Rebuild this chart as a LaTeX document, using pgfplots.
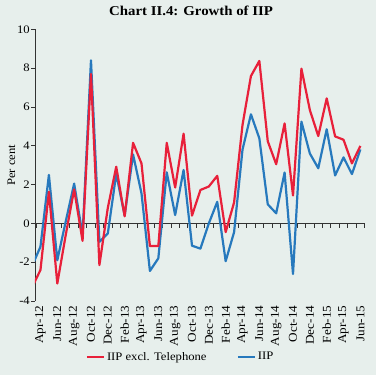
\documentclass[border=0pt]{standalone}
\usepackage{fontspec}
\setmainfont{Liberation Serif}[FakeStretch=1.1]
\usepackage{pgfplots}
\pgfplotsset{compat=1.18}
\usepackage{pgfplotstable}
\definecolor{bg}{HTML}{E7EFEC}
\definecolor{iipred}{HTML}{E8203A}
\definecolor{iipblue}{HTML}{2779BD}
\definecolor{axcol}{HTML}{333333}

\pgfplotstableread{
idx red blue
-1 -3.3 -2.2
0 -2.4 -1.2
1 1.63 2.5
2 -3.1 -1.9
3 -0.6 0.1
4 1.75 2.05
5 -0.9 -0.6
6 7.7 8.4
7 -2.15 -0.95
8 0.8 -0.52
9 2.92 2.55
10 0.36 0.4
11 4.15 3.55
12 3.09 1.55
13 -1.17 -2.45
14 -1.17 -1.8
15 4.15 2.63
16 1.85 0.43
17 4.62 2.75
18 0.4 -1.15
19 1.72 -1.3
20 1.9 0.0
21 2.45 1.11
22 -0.45 -1.95
23 1.08 -0.45
24 5.07 3.8
25 7.59 5.62
26 8.37 4.38
27 4.23 0.98
28 3.05 0.52
29 5.15 2.62
30 1.44 -2.61
31 7.97 5.24
32 5.84 3.6
33 4.5 2.84
34 6.44 4.85
35 4.48 2.47
36 4.31 3.4
37 3.09 2.54
38 3.99 3.81
}\datatab

\begin{document}
\fontsize{11.5pt}{13pt}\selectfont
\begin{tikzpicture}
\fill[bg] (-35pt,-74pt) rectangle (341pt,301pt);
\begin{axis}[
  scale only axis, width=330pt, height=271.7pt,
  xmin=-0.65, xmax=38.55, ymin=-4, ymax=10,
  axis x line*=bottom, axis y line*=left,
  x axis line style={draw=none},
  y axis line style={draw=axcol, line width=0.8pt},
  xtick={0,2,...,38},
  xticklabels={Apr-12,Jun-12,Aug-12,Oct-12,Dec-12,Feb-13,Apr-13,Jun-13,Aug-13,Oct-13,Dec-13,Feb-14,Apr-14,Jun-14,Aug-14,Oct-14,Dec-14,Feb-15,Apr-15,Jun-15},
  xtick style={draw=none},
  xticklabel style={rotate=90, anchor=east, inner sep=1pt, font=\fontsize{12pt}{14pt}\selectfont},
  ytick={-4,-2,...,10},
  ytick style={draw=axcol, line width=0.8pt},
  tick align=outside, major tick length=3.5pt,
  /pgf/number format/assume math mode=true,
  yticklabel style={inner sep=1.5pt},
  ylabel={Per cent},
  every axis y label/.style={at={(axis description cs:0,0.5)}, xshift=-23.5pt, rotate=90, anchor=center},
  title={Chart II.4: Growth of IIP},
  title style={font=\bfseries\fontsize{13.5pt}{15pt}\selectfont, at={(axis description cs:0.473,1)}, anchor=base, yshift=8pt},
  legend columns=2,
  legend style={draw=none, fill=none, at={(axis description cs:0.441,-0.206)}, anchor=center,
    /tikz/every even column/.append style={column sep=28pt}},
  legend image code/.code={\draw[#1] (0pt,0pt) -- (17pt,0pt);},
]
\draw[black!80, line width=0.9pt] (axis cs:-0.65,0) -- (axis cs:38.55,0);
\foreach \k in {0,...,39} {
  \edef\temp{\noexpand\draw[black!80, line width=0.9pt] (axis cs:\k-0.5,0) -- ++(0pt,-4.5pt);}
  \temp
}
\addlegendimage{iipred, line width=2.4pt}
\addlegendentry{IIP excl. Telephone}
\addlegendimage{iipblue, line width=2.4pt}
\addlegendentry{IIP}
\addplot[iipblue, line width=2.2pt, line join=round, forget plot] table[x=idx, y=blue] {\datatab};
\addplot[iipred, line width=2.2pt, line join=round, forget plot] table[x=idx, y=red] {\datatab};
\end{axis}
\end{tikzpicture}
\end{document}
